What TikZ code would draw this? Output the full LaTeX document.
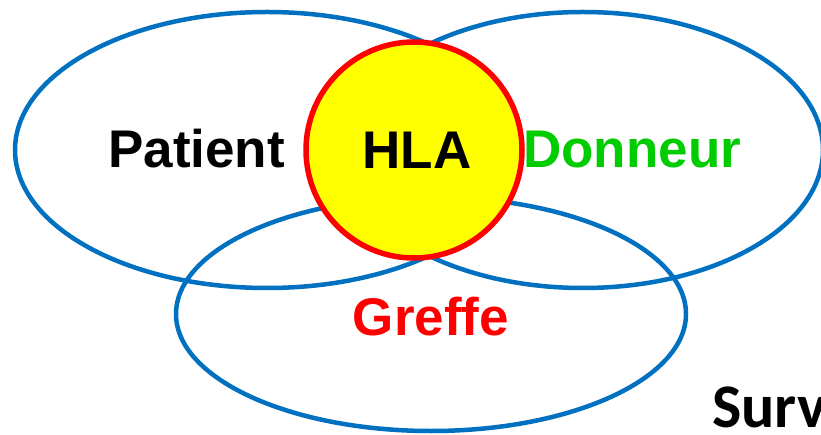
\documentclass[tikz,border=0pt]{standalone}
\usepackage{fontspec}
\setmainfont{Liberation Sans}
\newfontfamily\survfont{Carlito}
\usetikzlibrary{shapes.geometric}
\definecolor{vennblue}{RGB}{0,112,192}
\definecolor{donneurgreen}{RGB}{0,204,0}
\definecolor{hlared}{RGB}{255,0,0}
\definecolor{hlayellow}{RGB}{255,255,0}
\tikzset{
  venn/.style={draw=vennblue, line width=4.5pt},
  lbl/.style={inner sep=0pt, font=\fontsize{53}{60}\selectfont\bfseries},
}
\begin{document}
\begin{tikzpicture}[x=1pt,y=-1pt]
\useasboundingbox (0,0) rectangle (821,435);
\fill[white] (0,0) rectangle (821,435);
% ellipses
\draw[venn] (267,150) ellipse [x radius=252pt, y radius=138pt];
\draw[venn] (583,150) ellipse [x radius=240pt, y radius=138pt];
\draw[venn] (431,314) ellipse [x radius=255pt, y radius=117pt];
% HLA circle
\node[circle, draw=hlared, fill=hlayellow, line width=5.5pt, minimum size=216pt, inner sep=0pt] (hlacircle) at (414,150) {};
% labels
\node[lbl, anchor=base west] (patient) at (108,168) {Patient};
\node[lbl, anchor=base] (hla) at (417,169) {HLA};
\node[lbl, anchor=base west, text=donneurgreen] (donneur) at (523,168) {Donneur};
\node[lbl, anchor=base, text=hlared] (greffe) at (431,335) {Greffe};
\node[inner sep=0pt, anchor=base west, font=\survfont\fontsize{62}{70}\selectfont\bfseries] (surv) at (712,427) {Surv};
\end{tikzpicture}
\end{document}
